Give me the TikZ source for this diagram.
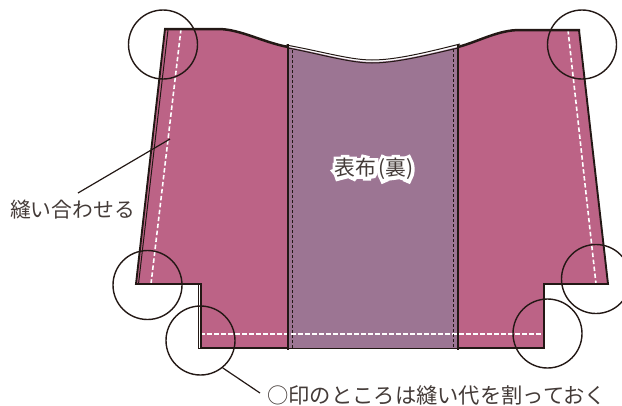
\documentclass[tikz,border=0pt]{standalone}
\usepackage{fontspec}
\newfontfamily\jpfont{Noto Sans CJK JP}
\newfontfamily\halofont{Noto Sans CJK JP}[FakeBold=32]
\definecolor{inkline}{HTML}{231815}
\definecolor{clothface}{HTML}{BC6386}
\definecolor{clothback}{HTML}{9C7593}
\newcommand{\clothtext}{表布\kern2pt(裏)}
\tikzset{
  outline/.style={draw=inkline,line width=1.9pt,line join=miter},
  thickline/.style={draw=inkline,line width=2.5pt},
  thinline/.style={draw=inkline,line width=1pt},
  seam/.style={draw=white,line width=1.6pt,dash pattern=on 4.5pt off 2.5pt},
  stitch/.style={draw=inkline,line width=1pt,dash pattern=on 3pt off 2pt},
  markcircle/.style={circle,draw=inkline,line width=1.4pt,minimum size=69pt,inner sep=0pt},
  leader/.style={draw=inkline,line width=1.2pt},
  caption/.style={font=\jpfont\fontsize{20.8}{24}\selectfont,text=inkline!85!white,inner sep=0pt},
}
\begin{document}
\begin{tikzpicture}[x=1pt,y=-1pt]
  \useasboundingbox (0,0) rectangle (622,405);

  \fill[clothface] (165,29) -- (218,29) .. controls (240,29) and (262,42) .. (288,47) -- (288,348) -- (201,348) -- (201,284) -- (136,284) -- cycle;
  \fill[clothface] (579,30) -- (520,30) .. controls (498,30) and (480,41) .. (458,47) -- (458,348) -- (544,348) -- (544,284) -- (608,284) -- cycle;
  \fill[clothback] (288,47) .. controls (320,53) and (350,62) .. (372,62) .. controls (396,62) and (428,54) .. (458,47) -- (458,348) -- (288,348) -- cycle;

  \draw[seam] (181,29) -- (151,284);
  \draw[seam] (568,30) -- (596,284);
  \draw[seam] (200,334) -- (544,334);
  \draw[stitch] (292.5,50) -- (292.5,348);
  \draw[stitch] (453.5,49) -- (453.5,348);

  \draw[outline] (165,29) -- (136,284) -- (201,284) -- (201,348) -- (288,348);
  \draw[outline] (579,30) -- (608,284) -- (544,284) -- (544,348) -- (458,348);
  \draw[thickline] (288,47) .. controls (262,42) and (240,29) .. (218,29) -- (164,29);
  \draw[thickline] (458,47) .. controls (480,41) and (498,30) .. (520,30) -- (580,30);
  \draw[outline] (288,44) -- (288,350);
  \draw[outline] (458,44) -- (458,350);
  \draw[thinline] (286,45) .. controls (320,51) and (350,60) .. (372,60) .. controls (396,60) and (428,52) .. (460,44);
  \draw[thinline] (288,48) .. controls (320,54) and (350,63) .. (372,63) .. controls (396,63) and (428,55) .. (458,48);
  \draw[thinline] (168,30) -- (138.5,284);
  \draw[thinline] (198.5,284) -- (198.5,348) -- (201,348);
  \draw[thinline] (288,348) -- (458,348);

  \node[markcircle] (markTL) at (163,44.5) {};
  \node[markcircle] (markTR) at (582,44.5) {};
  \node[markcircle] (markBL) at (147.5,285) {};
  \node[markcircle] (markBM) at (200.5,340.5) {};
  \node[markcircle] (markBR) at (547.5,333.5) {};
  \node[markcircle] (markRR) at (596,279) {};

  \node[caption,anchor=west] (seamLabel) at (10,209.5) {縫い合わせる};
  \node[caption,anchor=west,font=\jpfont\fontsize{21.3}{24}\selectfont] (noteLabel) at (267,395) {○印のところは縫い代を割っておく};
  \node[caption] (clothLabel) at (374,169) {\rlap{\halofont\color{white}\clothtext}\clothtext};

  \coordinate (seamEnd) at (170,139);
  \coordinate (seamStart) at (78,193);
  \coordinate (noteEnd) at (260,393);
  \draw[leader] (seamStart) -- (seamEnd);
  \draw[leader] (markBM.-51) -- (noteEnd);
\end{tikzpicture}
\end{document}
